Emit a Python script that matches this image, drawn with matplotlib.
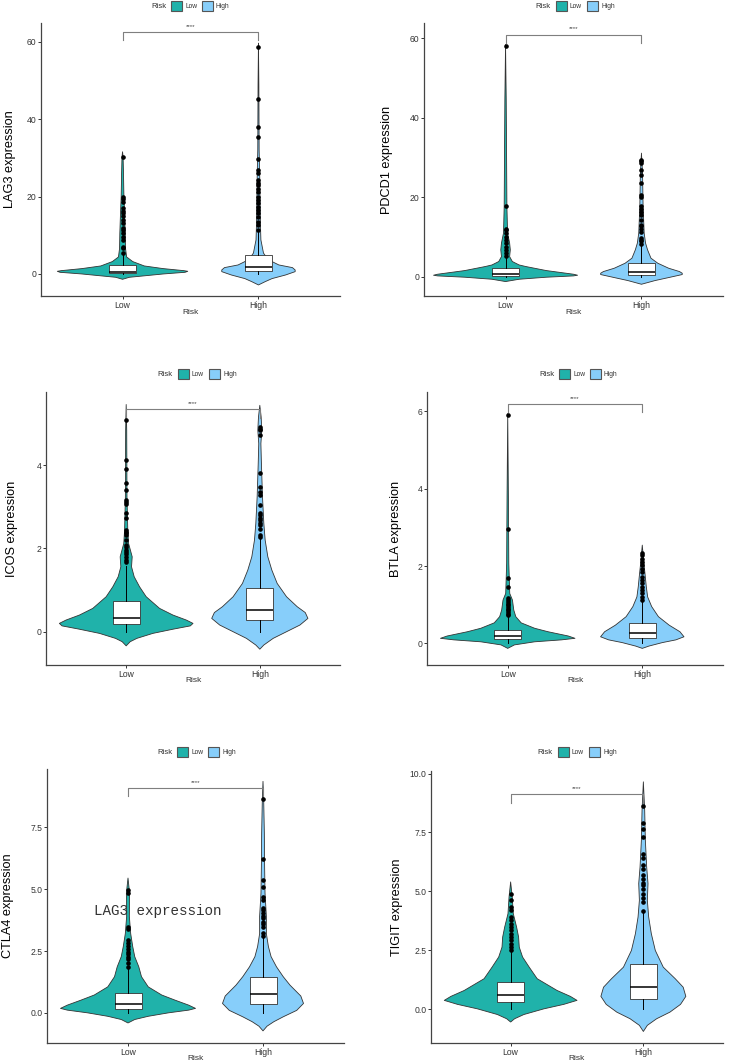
import matplotlib
matplotlib.use("Agg")
import matplotlib.pyplot as plt
from matplotlib.patches import Rectangle

# ---- data ------------------------------------------------------------------
genes = ["LAG3", "PDCD1", "ICOS", "BTLA", "CTLA4", "TIGIT"]
groups = ["Low", "High"]
group_colors = ["#20B2AA", "#87CEFA"]

# violin outlines: y levels and half widths (category spacing = 1)
lag3_low_y = [-1.38, -0.86, -0.52, 0.0, 0.43, 0.69, 0.86, 1.38, 2.07, 3.2, 4.4, 6.6, 10.5, 15.7, 20.0, 26.0, 30.3, 31.6]
lag3_low_w = [0, 0.05, 0.15, 0.3, 0.46, 0.48, 0.45, 0.3, 0.16, 0.075, 0.03, 0.022, 0.02, 0.015, 0.01, 0.007, 0.004, 0]
lag3_high_y = [-2.84, -1.98, -1.2, -0.26, 0.6, 1.03, 1.64, 2.33, 3.2, 4.5, 5.4, 8.8, 12.2, 19.0, 26.0, 32.0, 49.0, 59.7]
lag3_high_w = [0, 0.05, 0.1, 0.2, 0.27, 0.27, 0.25, 0.15, 0.1, 0.055, 0.037, 0.018, 0.015, 0.012, 0.009, 0.005, 0.003, 0]

pdcd1_low_y = [-1.17, -0.59, -0.08, 0.25, 0.42, 0.67, 1.59, 2.6, 3.0, 3.86, 5.1, 6.8, 8.5, 11.0, 17.7, 44.5, 58.4]
pdcd1_low_w = [0, 0.1, 0.3, 0.5, 0.53, 0.5, 0.3, 0.15, 0.1, 0.05, 0.03, 0.035, 0.03, 0.015, 0.01, 0.005, 0]
pdcd1_high_y = [-1.85, -0.92, -0.17, 0.59, 0.92, 1.34, 2.18, 3.44, 4.7, 6.8, 8.5, 11.0, 17.7, 26.0, 31.1]
pdcd1_high_w = [0, 0.1, 0.2, 0.3, 0.3, 0.28, 0.2, 0.12, 0.07, 0.045, 0.03, 0.02, 0.012, 0.008, 0]

icos_low_y = [-0.34, -0.24, -0.16, -0.04, 0.06, 0.14, 0.2, 0.28, 0.4, 0.56, 0.84, 1.08, 1.32, 1.56, 1.8, 2.12, 2.44, 3.24, 4.84, 5.46]
icos_low_w = [0, 0.03, 0.08, 0.2, 0.35, 0.48, 0.5, 0.45, 0.35, 0.25, 0.15, 0.1, 0.06, 0.04, 0.045, 0.018, 0.012, 0.006, 0.004, 0]
icos_high_y = [-0.42, -0.32, -0.16, 0.0, 0.16, 0.32, 0.46, 0.6, 0.84, 1.16, 1.48, 1.8, 2.2, 2.6, 3.24, 4.04, 4.52, 4.84, 5.16, 5.44]
icos_high_w = [0, 0.03, 0.1, 0.2, 0.3, 0.36, 0.34, 0.28, 0.2, 0.13, 0.09, 0.06, 0.04, 0.03, 0.02, 0.012, 0.008, 0.015, 0.01, 0]

btla_low_y = [-0.13, -0.04, 0.04, 0.09, 0.13, 0.19, 0.3, 0.39, 0.53, 0.69, 0.86, 1.12, 1.29, 2.07, 3.79, 5.94]
btla_low_w = [0, 0.05, 0.2, 0.4, 0.5, 0.45, 0.3, 0.2, 0.1, 0.06, 0.045, 0.035, 0.015, 0.008, 0.005, 0]
btla_high_y = [-0.13, -0.07, 0.02, 0.09, 0.17, 0.3, 0.47, 0.69, 0.95, 1.2, 1.46, 1.81, 2.07, 2.54]
btla_high_w = [0, 0.05, 0.15, 0.25, 0.31, 0.28, 0.2, 0.12, 0.07, 0.04, 0.03, 0.02, 0.012, 0]

ctla4_low_y = [-0.41, -0.27, -0.14, 0.0, 0.11, 0.18, 0.31, 0.51, 0.72, 1.05, 1.46, 1.86, 2.27, 2.68, 3.2, 3.9, 4.84, 5.45]
ctla4_low_w = [0, 0.05, 0.15, 0.3, 0.45, 0.5, 0.45, 0.35, 0.25, 0.15, 0.1, 0.08, 0.05, 0.035, 0.02, 0.01, 0.012, 0]
ctla4_high_y = [-0.73, -0.54, -0.36, -0.16, 0.1, 0.38, 0.68, 1.12, 1.46, 1.86, 2.27, 2.68, 3.2, 3.9, 4.84, 5.92, 7.27, 8.62, 9.36]
ctla4_high_w = [0, 0.03, 0.08, 0.15, 0.25, 0.3, 0.28, 0.2, 0.15, 0.1, 0.06, 0.04, 0.025, 0.025, 0.015, 0.012, 0.01, 0.005, 0]

tigit_low_y = [-0.55, -0.41, -0.23, 0.01, 0.2, 0.37, 0.54, 0.79, 1.29, 1.78, 2.21, 2.63, 3.06, 3.48, 4.05, 4.76, 5.4]
tigit_low_w = [0, 0.03, 0.1, 0.25, 0.4, 0.5, 0.45, 0.35, 0.2, 0.14, 0.09, 0.065, 0.06, 0.045, 0.02, 0.012, 0]
tigit_high_y = [-0.95, -0.69, -0.41, -0.13, 0.2, 0.54, 0.93, 1.29, 1.78, 2.49, 3.2, 3.91, 4.62, 5.33, 6.03, 7.17, 8.44, 9.65]
tigit_high_w = [0, 0.03, 0.1, 0.2, 0.28, 0.32, 0.3, 0.24, 0.15, 0.09, 0.06, 0.04, 0.03, 0.035, 0.025, 0.015, 0.01, 0]

# box stats per group: q1, median, q3, lower whisker, upper whisker
lag3_box = [[0.35, 0.6, 2.2, 0.0, 5.0], [0.78, 1.9, 4.83, 0.0, 10.8]]
pdcd1_box = [[0.25, 0.75, 2.2, 0.0, 5.0], [0.5, 1.35, 3.4, 0.0, 7.8]]
icos_box = [[0.18, 0.34, 0.74, 0.0, 1.58], [0.28, 0.52, 1.06, 0.0, 2.23]]
btla_box = [[0.1, 0.2, 0.34, 0.0, 0.7], [0.13, 0.26, 0.52, 0.0, 1.1]]
ctla4_box = [[0.15, 0.35, 0.81, 0.0, 1.8], [0.35, 0.76, 1.43, 0.0, 3.05]]
tigit_box = [[0.3, 0.6, 1.15, 0.0, 2.42], [0.44, 0.93, 1.93, 0.0, 4.16]]

# outliers
lag3_low_out = [30.3, 20.0, 19.4, 18.5, 17.0, 16.4, 15.7, 15.0, 14.0, 13.3, 11.8, 11.4, 10.5, 9.5, 8.8, 7.1, 6.6, 5.3]
lag3_high_out = [58.8, 45.2, 38.1, 35.5, 29.7, 26.9, 26.0, 24.3, 23.6, 23.0, 22.1, 21.3, 20.0, 19.1, 18.3, 17.4,
                 16.6, 15.7, 14.8, 13.5, 12.6, 11.4]
pdcd1_low_out = [58.0, 17.7, 12.0, 11.7, 11.0, 10.0, 9.3, 8.5, 7.6, 6.8, 6.0, 5.2]
pdcd1_high_out = [29.4, 29.0, 28.6, 26.9, 25.7, 23.7, 20.6, 20.1, 17.7, 17.0, 16.4, 15.6, 14.3, 13.0, 12.7, 12.0,
                  11.4, 9.7, 9.3, 8.9, 8.2]
icos_low_out = [5.08, 4.12, 3.9, 3.58, 3.4, 3.16, 3.12, 3.08, 2.86, 2.74, 2.44, 2.4, 2.36, 2.32, 2.2, 2.08, 2.04,
                1.96, 1.92, 1.86, 1.8, 1.72, 1.68]
icos_high_out = [4.92, 4.88, 4.84, 4.72, 3.82, 3.48, 3.36, 3.28, 3.04, 2.86, 2.8, 2.74, 2.68, 2.62, 2.56, 2.48,
                 2.32, 2.28]
btla_low_out = [5.9, 2.97, 1.68, 1.46, 1.16, 1.12, 1.08, 1.03, 0.99, 0.95, 0.9, 0.86, 0.82, 0.77, 0.73]
btla_high_out = [2.34, 2.28, 2.19, 2.1, 2.02, 1.93, 1.85, 1.72, 1.64, 1.55, 1.46, 1.38, 1.29, 1.2, 1.12]
ctla4_low_out = [4.97, 4.84, 3.49, 3.38, 2.95, 2.81, 2.7, 2.6, 2.47, 2.38, 2.27, 2.16, 2.03, 1.86]
ctla4_high_out = [8.65, 6.22, 5.38, 5.1, 4.7, 4.57, 4.23, 4.14, 4.03, 3.92, 3.82, 3.69, 3.59, 3.49, 3.22, 3.11]
tigit_low_out = [4.87, 4.62, 4.33, 4.22, 3.91, 3.77, 3.63, 3.48, 3.34, 3.2, 3.06, 2.92, 2.78, 2.63, 2.49]
tigit_high_out = [8.61, 7.9, 7.66, 7.31, 6.57, 6.4, 6.1, 5.95, 5.68, 5.53, 5.35, 5.25, 5.11, 4.9, 4.73, 4.55, 4.16]

# significance bracket height and axis ranges
bracket_y = [62.5, 60.9, 5.34, 6.18, 9.09, 9.12]
bracket_tip = [2.1, 2.06, 0.2, 0.21, 0.33, 0.35]
y_limits = [(-5.7, 64.9), (-4.8, 63.8), (-0.8, 5.76), (-0.56, 6.5), (-1.22, 9.86), (-1.44, 10.11)]
y_ticks = [[0, 20, 40, 60], [0, 20, 40, 60], [0, 2, 4], [0, 2, 4, 6],
           [0, 2.5, 5.0, 7.5], [0, 2.5, 5.0, 7.5, 10.0]]
y_ticklabels = [["0", "20", "40", "60"], ["0", "20", "40", "60"], ["0", "2", "4"], ["0", "2", "4", "6"],
                ["0.0", "2.5", "5.0", "7.5"], ["0.0", "2.5", "5.0", "7.5", "10.0"]]

violins = [
    [(lag3_low_y, lag3_low_w), (lag3_high_y, lag3_high_w)],
    [(pdcd1_low_y, pdcd1_low_w), (pdcd1_high_y, pdcd1_high_w)],
    [(icos_low_y, icos_low_w), (icos_high_y, icos_high_w)],
    [(btla_low_y, btla_low_w), (btla_high_y, btla_high_w)],
    [(ctla4_low_y, ctla4_low_w), (ctla4_high_y, ctla4_high_w)],
    [(tigit_low_y, tigit_low_w), (tigit_high_y, tigit_high_w)],
]
boxes = [lag3_box, pdcd1_box, icos_box, btla_box, ctla4_box, tigit_box]
outliers = [
    [lag3_low_out, lag3_high_out],
    [pdcd1_low_out, pdcd1_high_out],
    [icos_low_out, icos_high_out],
    [btla_low_out, btla_high_out],
    [ctla4_low_out, ctla4_high_out],
    [tigit_low_out, tigit_high_out],
]

# ---- layout (pixels of the 731x1062 reference) ------------------------------
W, H = 731, 1062
# left, right, top, bottom of each panel
panel_px = [(41, 340, 23, 296), (424, 723, 23, 296),
            (46, 340, 392, 665), (427, 723, 392, 665),
            (47, 344, 769, 1043), (431, 723, 771, 1043)]
legend_px = [(190, 6), (575, 6), (197, 374), (578, 374), (196, 752), (577, 752)]
ylabel_px = [10, 387, 12, 396, 8.5, 397]

EDGE = "#333333"
plt.rcParams["font.family"] = ["Liberation Sans", "DejaVu Sans"]

fig = plt.figure(figsize=(W / 100, H / 100), dpi=100)

for i, gene in enumerate(genes):
    l, r, t, b = panel_px[i]
    ax = fig.add_axes([l / W, 1 - b / H, (r - l) / W, (b - t) / H])

    for j, grp in enumerate(groups):
        ys, ws = violins[i][j]
        xs = [j + w for w in ws] + [j - w for w in ws[::-1]]
        yy = list(ys) + list(ys[::-1])
        ax.fill(xs, yy, facecolor=group_colors[j], edgecolor=EDGE, lw=0.6,
                joinstyle="round", zorder=1)

        q1, med, q3, lo, hi = boxes[i][j]
        stats = [{"q1": q1, "med": med, "q3": q3, "whislo": lo, "whishi": hi,
                  "fliers": outliers[i][j]}]
        ax.bxp(stats, positions=[j], widths=0.2, patch_artist=True, showcaps=False,
               boxprops=dict(facecolor="white", edgecolor=EDGE, lw=0.6),
               medianprops=dict(color="black", lw=1.1),
               whiskerprops=dict(color="black", lw=0.7),
               flierprops=dict(marker="o", markerfacecolor="black", markeredgecolor="black",
                               markersize=2.3, lw=0), zorder=3)

    # significance bracket
    by, tip = bracket_y[i], bracket_tip[i]
    ax.plot([0, 0, 1, 1], [by - tip, by, by, by - tip], color="#7f7f7f", lw=0.8,
            zorder=2, clip_on=False)
    ax.annotate("****", xy=(0.5, by), xytext=(0, 2.5), textcoords="offset points",
                ha="center", va="bottom", fontsize=4.5, color="#444444")

    ax.set_xlim(-0.6, 1.6)
    ax.set_ylim(*y_limits[i])
    ax.set_xticks([0, 1])
    ax.set_xticklabels(groups)
    ax.set_yticks(y_ticks[i])
    ax.set_yticklabels(y_ticklabels[i])
    ax.tick_params(direction="out", length=2.3, width=0.7, pad=1, colors=EDGE,
                   labelsize=6.2, labelcolor="#333333")
    for side in ("top", "right"):
        ax.spines[side].set_visible(False)
    for side in ("left", "bottom"):
        ax.spines[side].set_color("#444444")
        ax.spines[side].set_linewidth(0.9)

    ax.set_xlabel("Risk", fontsize=6, color="#333333")
    ax.xaxis.set_label_coords(0.5, -12.5 / (b - t))
    ax.set_ylabel(f"{gene} expression", fontsize=9.2, color="black", va="center")
    ax.yaxis.set_label_coords((ylabel_px[i] - l) / (r - l), 0.5)

    # legend drawn in figure pixels, centred over the panel
    cx, cy = legend_px[i]
    fy = 1 - cy / H
    fig.text((cx - 24) / W, fy, "Risk", ha="right", va="center", fontsize=5.6, color="#333333")
    for k, (dx0, dx1) in enumerate([(-19, -5), (12, 26)]):
        fig.patches.append(Rectangle(((cx + dx0) / W, (H - cy - 5.2) / H), 11.3 / W, 10.4 / H,
                                     transform=fig.transFigure, facecolor=group_colors[k],
                                     edgecolor="#555555", lw=0.8))
        fig.text((cx + dx1) / W, fy, groups[k], ha="left", va="center", fontsize=4.8,
                 color="#333333")

# stray label left in the bottom-left panel of the original
fig.text(157.5 / W, 1 - 911 / H, "LAG3 expression", family="Liberation Mono",
         fontsize=10.3, color="#333333", ha="center", va="center")

fig.savefig("out.png", dpi=100)
